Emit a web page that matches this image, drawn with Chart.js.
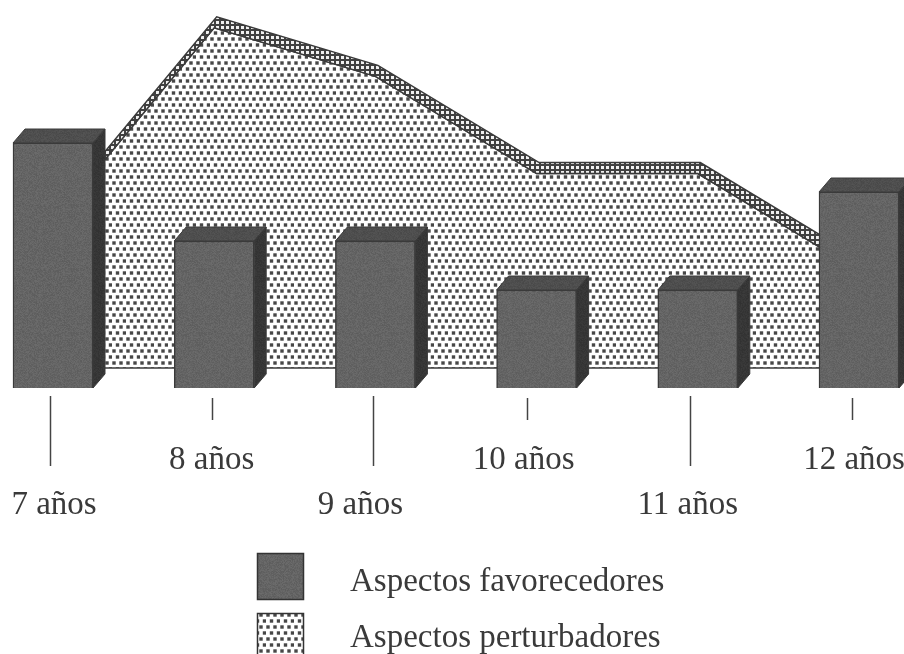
<!DOCTYPE html>
<html>
<head>
<meta charset="utf-8">
<style>html,body{margin:0;padding:0;background:#fff}canvas{display:block}</style>
<script src="https://cdn.jsdelivr.net/npm/chart.js@4"></script>
</head>
<body>
<canvas id="c" width="904" height="654"></canvas>
<script>
const categories = ['7 años','8 años','9 años','10 años','11 años','12 años'];
const favorecedores = [5,3,3,2,2,4];
const perturbadores = [3,7,6,4,4,2];
const seriesNames = ['Aspectos favorecedores','Aspectos perturbadores'];

const FONT = '33px "Liberation Serif"';
const INK = '#3a3a3a';
const labelNudge = [1,-2.5,-15,-13,-10,-5];
const leaderNudge = [-3,-2.5,-2,-10,-8,-7];
const DEPTH = {x:12,y:-14};
const RIDGE = {x:2.5,y:-11};

function tile(w,h,paint){const c=document.createElement('canvas');c.width=w;c.height=h;paint(c.getContext('2d'));return c;}
const ctxMain = document.getElementById('c').getContext('2d');
const dotPattern = ctxMain.createPattern(tile(14,12,g=>{
  g.fillStyle='#fff';g.fillRect(0,0,14,12);g.fillStyle='#474747';
  [[2,3],[9,3],[5.5,9],[12.5,9]].forEach(p=>{g.fillRect(p[0]-1.7,p[1]-1.7,3.4,3.4);});
}),'repeat');
const ridgePattern = ctxMain.createPattern(tile(5,5,g=>{
  g.fillStyle='#404040';g.fillRect(0,0,5,5);g.fillStyle='#f0f0f0';g.fillRect(1,1,3,3);
}),'repeat');
// print-like grain for the solid bar faces (texture only, carries no data)
function grain(base,spread){
  return ctxMain.createPattern(tile(64,64,g=>{
    for(let y=0;y<64;y++)for(let x=0;x<64;x++){
      const h=Math.sin(x*12.9898+y*78.233)*43758.5453;
      const v=Math.round(base+(h-Math.floor(h)-0.5)*spread);
      g.fillStyle='rgb('+v+','+v+','+v+')';g.fillRect(x,y,1,1);
    }
  }),'repeat');
}
const frontFill=grain(100,16), topFill=grain(78,12), sideFill=grain(54,10);

const threeD = {
  id:'threeD',
  afterDatasetDraw(chart,args){
    const g=chart.ctx;
    const meta=args.meta;
    if(meta.type==='line'){
      const pts=meta.data;
      g.save();
      g.beginPath();
      pts.forEach((p,i)=>{i?g.lineTo(p.x+RIDGE.x,p.y+RIDGE.y):g.moveTo(p.x+RIDGE.x,p.y+RIDGE.y);});
      for(let i=pts.length-1;i>=0;i--)g.lineTo(pts[i].x,pts[i].y);
      g.closePath();
      g.fillStyle=ridgePattern;g.fill();
      g.strokeStyle=INK;g.lineWidth=1.5;g.stroke();
      const base=chart.scales.y2.getPixelForValue(0);
      g.beginPath();g.moveTo(pts[0].x,base);g.lineTo(pts[pts.length-1].x,base);g.stroke();
      g.restore();
    } else {
      g.save();
      g.strokeStyle='#3a3a3a';g.lineWidth=1;
      meta.data.forEach(b=>{
        const l=b.x-b.width/2,r=b.x+b.width/2,t=b.y,bt=b.base;
        g.beginPath();g.moveTo(l,t);g.lineTo(l+DEPTH.x,t+DEPTH.y);g.lineTo(r+DEPTH.x,t+DEPTH.y);g.lineTo(r,t);g.closePath();
        g.fillStyle=topFill;g.fill();g.stroke();
        g.beginPath();g.moveTo(r,t);g.lineTo(r+DEPTH.x,t+DEPTH.y);g.lineTo(r+DEPTH.x,bt+DEPTH.y);g.lineTo(r,bt);g.closePath();
        g.fillStyle=sideFill;g.fill();g.stroke();
      });
      g.restore();
    }
  },
  beforeDraw(chart){
    const items=chart.scales.x.getLabelItems(chart.chartArea);
    items.forEach((it,i)=>{
      if(!it._nudged){it.options.translation=[it.options.translation[0]+labelNudge[i],it.options.translation[1]];it._nudged=true;}
    });
  },
  afterDraw(chart){
    const g=chart.ctx,x=chart.scales.x;
    g.save();
    categories.forEach((c,i)=>{
      g.strokeStyle='#444';g.lineWidth=1.5;
      const px=Math.round(x.getPixelForValue(i)+leaderNudge[i])+0.5;
      g.beginPath();
      g.moveTo(px,i%2?398:396);g.lineTo(px,i%2?420:466);g.stroke();
    });
    const boxes=[553,613];
    const texts=[591,647];
    boxes.forEach((y,i)=>{
      g.fillStyle=i?dotPattern:frontFill;
      g.fillRect(257,y,47,47);
      g.strokeStyle='#333';g.lineWidth=1.5;g.strokeRect(257.5,y+.5,46,46);
      g.fillStyle=INK;g.font=FONT;g.textAlign='left';g.textBaseline='alphabetic';
      g.fillText(seriesNames[i],350,texts[i]);
    });
    g.restore();
  }
};

new Chart(document.getElementById('c'),{
  data:{
    labels:categories,
    datasets:[
      {type:'bar',label:seriesNames[0],data:favorecedores,order:1,yAxisID:'y',backgroundColor:frontFill,borderColor:'#3a3a3a',borderWidth:1.5,barThickness:80,clip:false},
      {type:'line',label:seriesNames[1],data:perturbadores,order:2,yAxisID:'y2',tension:0,pointRadius:0,borderColor:INK,borderWidth:1.5,backgroundColor:dotPattern,fill:'origin',clip:false}
    ]
  },
  options:{
    responsive:false,animation:false,
    layout:{padding:{left:53,right:45,top:8,bottom:0}},
    plugins:{legend:{display:false},tooltip:{enabled:false}},
    scales:{
      x:{offset:false,grid:{display:false},border:{display:false},
        afterFit(s){s.height=266;s.paddingLeft=0;s.paddingRight=0;},
        ticks:{autoSkip:false,maxRotation:0,minRotation:0,padding:42,color:INK,
          font:{family:'"Liberation Serif"',size:33,lineHeight:45/33},
          callback(v,i){return i%2?categories[i]:['',categories[i]];}}},
      y:{display:false,min:0,max:380/49},
      y2:{display:false,min:-20/48.6,max:360/48.6}
    }
  },
  plugins:[threeD]
});
</script>
</body>
</html>
